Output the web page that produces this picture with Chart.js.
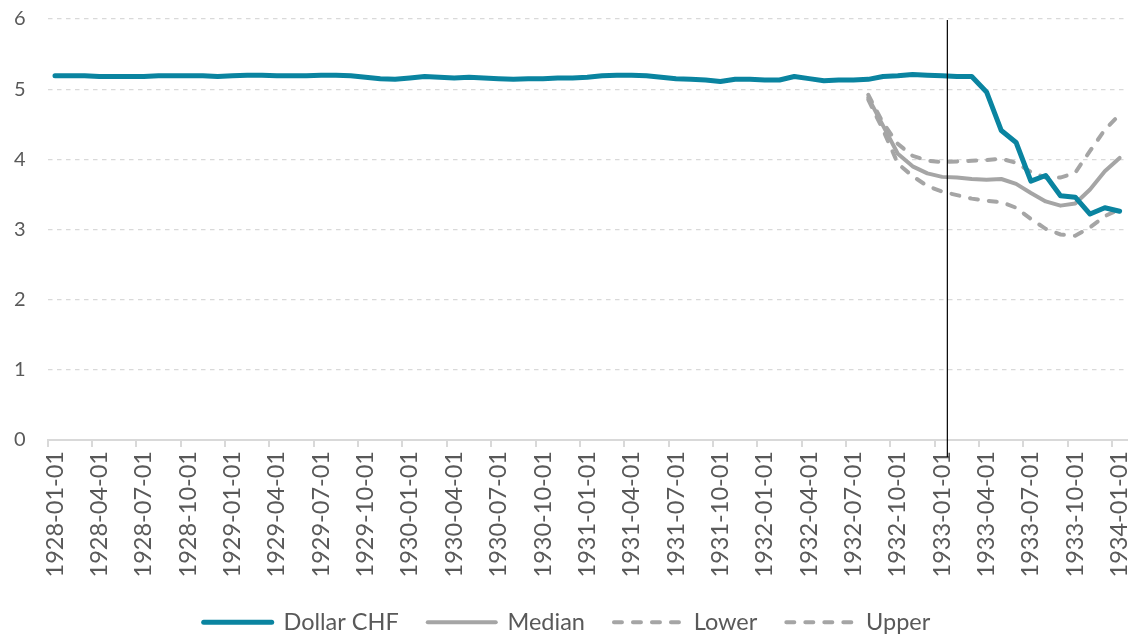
<!DOCTYPE html>
<html>
<head>
<meta charset="utf-8">
<script src="https://cdn.jsdelivr.net/npm/chart.js@4.4.0/dist/chart.umd.min.js"></script>
<style>
  html, body { margin: 0; padding: 0; background: #fff; }
  #wrap { width: 1139px; height: 639px; }
</style>
</head>
<body>
<div id="wrap"><canvas id="fxChart"></canvas></div>
<script>
// monthly observations, 1928-01 .. 1934-01
const months = [
  "1928-01-01","1928-02-01","1928-03-01","1928-04-01","1928-05-01","1928-06-01",
  "1928-07-01","1928-08-01","1928-09-01","1928-10-01","1928-11-01","1928-12-01",
  "1929-01-01","1929-02-01","1929-03-01","1929-04-01","1929-05-01","1929-06-01",
  "1929-07-01","1929-08-01","1929-09-01","1929-10-01","1929-11-01","1929-12-01",
  "1930-01-01","1930-02-01","1930-03-01","1930-04-01","1930-05-01","1930-06-01",
  "1930-07-01","1930-08-01","1930-09-01","1930-10-01","1930-11-01","1930-12-01",
  "1931-01-01","1931-02-01","1931-03-01","1931-04-01","1931-05-01","1931-06-01",
  "1931-07-01","1931-08-01","1931-09-01","1931-10-01","1931-11-01","1931-12-01",
  "1932-01-01","1932-02-01","1932-03-01","1932-04-01","1932-05-01","1932-06-01",
  "1932-07-01","1932-08-01","1932-09-01","1932-10-01","1932-11-01","1932-12-01",
  "1933-01-01","1933-02-01","1933-03-01","1933-04-01","1933-05-01","1933-06-01",
  "1933-07-01","1933-08-01","1933-09-01","1933-10-01","1933-11-01","1933-12-01",
  "1934-01-01"
];

const dollarChf = [
  5.19, 5.19, 5.19, 5.18, 5.18, 5.18, 5.18, 5.19, 5.19, 5.19, 5.19, 5.18,
  5.19, 5.20, 5.20, 5.19, 5.19, 5.19, 5.20, 5.20, 5.19, 5.17, 5.15, 5.14,
  5.16, 5.18, 5.17, 5.16, 5.17, 5.16, 5.15, 5.14, 5.15, 5.15, 5.16, 5.16,
  5.17, 5.19, 5.20, 5.20, 5.19, 5.17, 5.15, 5.14, 5.13, 5.11, 5.14, 5.14,
  5.13, 5.13, 5.18, 5.15, 5.12, 5.13, 5.13, 5.14, 5.18, 5.19, 5.21, 5.20,
  5.19, 5.18, 5.18, 4.96, 4.41, 4.24, 3.69, 3.77, 3.48, 3.46, 3.22, 3.31,
  3.26
];

const median = [
  null, null, null, null, null, null, null, null, null, null, null, null,
  null, null, null, null, null, null, null, null, null, null, null, null,
  null, null, null, null, null, null, null, null, null, null, null, null,
  null, null, null, null, null, null, null, null, null, null, null, null,
  null, null, null, null, null, null, null, 4.88, 4.48, 4.08, 3.90, 3.80,
  3.75, 3.74, 3.72, 3.71, 3.72, 3.65, 3.52, 3.40, 3.34, 3.37, 3.57, 3.83,
  4.02
];

const lower = [
  null, null, null, null, null, null, null, null, null, null, null, null,
  null, null, null, null, null, null, null, null, null, null, null, null,
  null, null, null, null, null, null, null, null, null, null, null, null,
  null, null, null, null, null, null, null, null, null, null, null, null,
  null, null, null, null, null, null, null, 4.85, 4.42, 3.94, 3.76, 3.62,
  3.54, 3.49, 3.44, 3.41, 3.39, 3.31, 3.15, 3.01, 2.93, 2.91, 3.03, 3.19,
  3.29
];

const upper = [
  null, null, null, null, null, null, null, null, null, null, null, null,
  null, null, null, null, null, null, null, null, null, null, null, null,
  null, null, null, null, null, null, null, null, null, null, null, null,
  null, null, null, null, null, null, null, null, null, null, null, null,
  null, null, null, null, null, null, null, 4.92, 4.52, 4.22, 4.05, 3.98,
  3.96, 3.97, 3.98, 3.99, 4.01, 3.95, 3.82, 3.74, 3.74, 3.81, 4.12, 4.42,
  4.64
];

const yTicks = [0, 1, 2, 3, 4, 5, 6];
const markerMonth = "1933-01-01";

const textColor = "#595959";
const gridColor = "#d9d9d9";
const blue = "#0a84a0";
const gray = "#a5a5a5";

// thin black vertical marker at the start of 1933
const markerLine = {
  id: "markerLine",
  afterDatasetsDraw(chart) {
    const x = chart.scales.x;
    const y = chart.scales.y;
    const i = months.indexOf(markerMonth);
    const px = x.getPixelForValue(i) + (x.getPixelForValue(i + 1) - x.getPixelForValue(i)) * 0.35;
    const ctx = chart.ctx;
    ctx.save();
    ctx.strokeStyle = "#000";
    ctx.lineWidth = 1.2;
    ctx.beginPath();
    ctx.moveTo(px, y.getPixelForValue(yTicks[yTicks.length - 1]) + 1);
    ctx.lineTo(px, chart.chartArea.bottom + 17);
    ctx.stroke();
    ctx.restore();
  }
};

document.addEventListener("DOMContentLoaded", function () {
  const ctx = document.getElementById("fxChart").getContext("2d");

  new Chart(ctx, {
    type: "line",
    data: {
      labels: months,
      datasets: [{
        label: "Dollar CHF",
        data: dollarChf,
        borderColor: blue,
        backgroundColor: blue,
        borderWidth: 5,
        borderCapStyle: "round",
        borderJoinStyle: "round",
        pointRadius: 0,
        pointStyle: "line",
        order: 1
      }, {
        label: "Median",
        data: median,
        borderColor: gray,
        backgroundColor: gray,
        borderWidth: 4,
        borderCapStyle: "round",
        borderJoinStyle: "round",
        pointRadius: 0,
        pointStyle: "line",
        order: 2
      }, {
        label: "Lower",
        data: upper,
        borderColor: gray,
        backgroundColor: gray,
        borderWidth: 4,
        borderDash: [8, 11],
        borderCapStyle: "round",
        pointRadius: 0,
        pointStyle: "line",
        order: 3
      }, {
        label: "Upper",
        data: lower,
        borderColor: gray,
        backgroundColor: gray,
        borderWidth: 4,
        borderDash: [8, 11],
        borderCapStyle: "round",
        pointRadius: 0,
        pointStyle: "line",
        order: 4
      }]
    },
    options: {
      responsive: true,
      maintainAspectRatio: false,
      animation: false,
      layout: { padding: { top: 0, right: 12, left: 7, bottom: -5 } },
      plugins: {
        legend: {
          position: "bottom",
          labels: {
            usePointStyle: true,
            pointStyleWidth: 68,
            boxHeight: 4,
            padding: 29,
            color: textColor,
            font: { family: "Lato", size: 23.5 },
            generateLabels: function (chart) {
              const items = Chart.defaults.plugins.legend.labels.generateLabels(chart);
              items.forEach((item) => {
                const ds = chart.data.datasets[item.datasetIndex];
                item.lineDash = ds.borderDash || [];
                item.lineCap = "round";
                item.lineWidth = ds.borderWidth;
                item.strokeStyle = ds.borderColor;
                item.fontColor = textColor;
              });
              return items;
            }
          }
        },
        tooltip: { enabled: false }
      },
      scales: {
        x: {
          offset: true,
          border: { color: gridColor, width: 2 },
          grid: {
            offset: true,
            drawOnChartArea: false,
            drawTicks: true,
            tickLength: 7,
            lineWidth: 2,
            color: (c) => (c.index % 3 === 0 ? gridColor : "rgba(0,0,0,0)")
          },
          // last rotated label sits inside its category, so no extra room on the right
          afterFit: (axis) => { axis.paddingRight = 0; },
          ticks: {
            autoSkip: false,
            minRotation: 90,
            maxRotation: 90,
            padding: 4,
            color: textColor,
            font: { family: "Lato", size: 23.5 },
            callback: function (value, index) {
              return index % 3 === 0 ? months[index] : "";
            }
          }
        },
        y: {
          min: yTicks[0],
          max: yTicks[yTicks.length - 1],
          border: { display: false, dash: [4.5, 4.5] },
          grid: {
            color: gridColor,
            lineWidth: 1.3,
            drawTicks: true,
            tickLength: 15,
            tickColor: "rgba(0,0,0,0)"
          },
          afterBuildTicks: (axis) => { axis.ticks = yTicks.map(v => ({ value: v })); },
          ticks: {
            padding: 7,
            color: textColor,
            font: { family: "Lato", size: 20 }
          }
        }
      }
    },
    plugins: [markerLine]
  });
});
</script>
</body>
</html>
